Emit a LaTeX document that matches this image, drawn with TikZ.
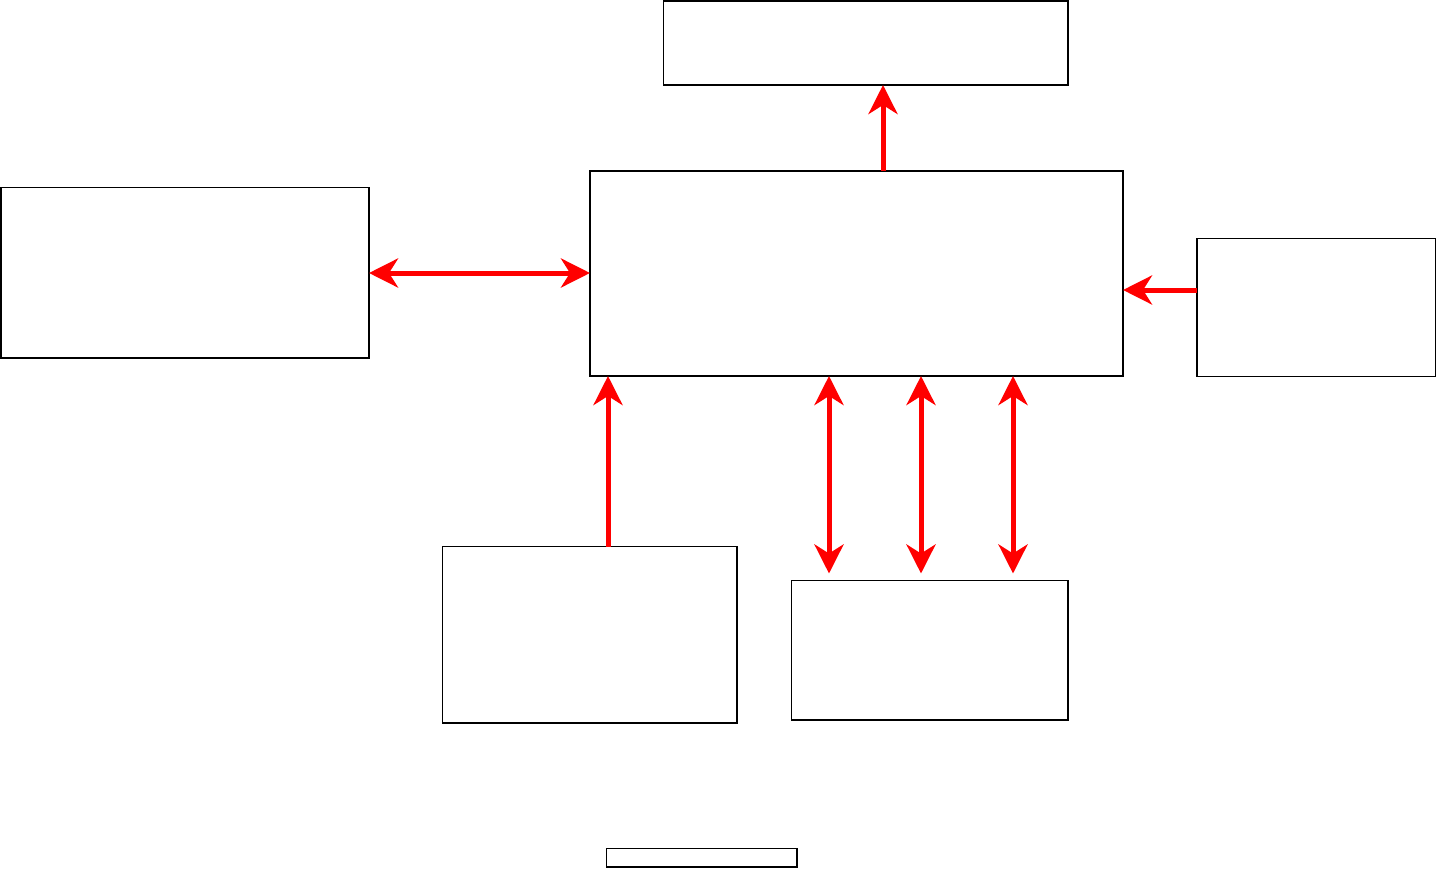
\documentclass[tikz,border=0pt]{standalone}
\usetikzlibrary{arrows.meta,calc}
\begin{document}
\begin{tikzpicture}[x=1pt,y=-1pt,
  blk/.style={draw=black,line width=1.6pt,fill=white,inner sep=0pt,outer sep=0pt,anchor=north west},
  conn/.style={draw={rgb,255:red,255;green,0;blue,0},line width=5pt},
  tip/.style={-{Stealth[length=29pt,width=29pt,inset=9pt]}},
  dtip/.style={{Stealth[length=29pt,width=29pt,inset=9pt]}-{Stealth[length=29pt,width=29pt,inset=9pt]}}]
\useasboundingbox (0,0) rectangle (1437,869);
\node[blk,minimum width=404.5pt,minimum height=84.2pt] (top) at (663.5,0.8) {};
\node[blk,minimum width=368pt,minimum height=170.5pt] (left) at (1,187.5) {};
\node[blk,minimum width=533pt,minimum height=205pt] (cen) at (590,171) {};
\node[blk,minimum width=238.5pt,minimum height=138pt] (right) at (1197,238.5) {};
\node[blk,minimum width=294.5pt,minimum height=176.5pt] (bl) at (442.5,546.5) {};
\node[blk,minimum width=276.5pt,minimum height=139.5pt] (br) at (791.5,580.5) {};
\node[blk,minimum width=190.5pt,minimum height=18.5pt] (small) at (606.5,848.5) {};
\coordinate (cT) at ($(cen.north west)+(293,0)$);
\coordinate (cL) at ($(cen.north west)+(0,102)$);
\coordinate (cR) at ($(cen.north east)+(0,119)$);
\coordinate (cB1) at ($(cen.south west)+(18,0)$);
\coordinate (cB2) at ($(cen.south west)+(239,0)$);
\coordinate (cB3) at ($(cen.south west)+(331,0)$);
\coordinate (cB4) at ($(cen.south west)+(423,0)$);
\coordinate (b2) at ($(cB2 |- br.north)+(0,-7)$);
\coordinate (b3) at ($(cB3 |- br.north)+(0,-7)$);
\coordinate (b4) at ($(cB4 |- br.north)+(0,-7)$);
\draw[conn,tip] (cT) -- (cT |- top.south);
\draw[conn,dtip] (cL -| left.east) -- (cL);
\draw[conn,tip] (cR -| right.west) -- (cR);
\draw[conn,tip] (cB1 |- bl.north) -- (cB1);
\draw[conn,dtip] (b2) -- (cB2);
\draw[conn,dtip] (b3) -- (cB3);
\draw[conn,dtip] (b4) -- (cB4);
\end{tikzpicture}
\end{document}
